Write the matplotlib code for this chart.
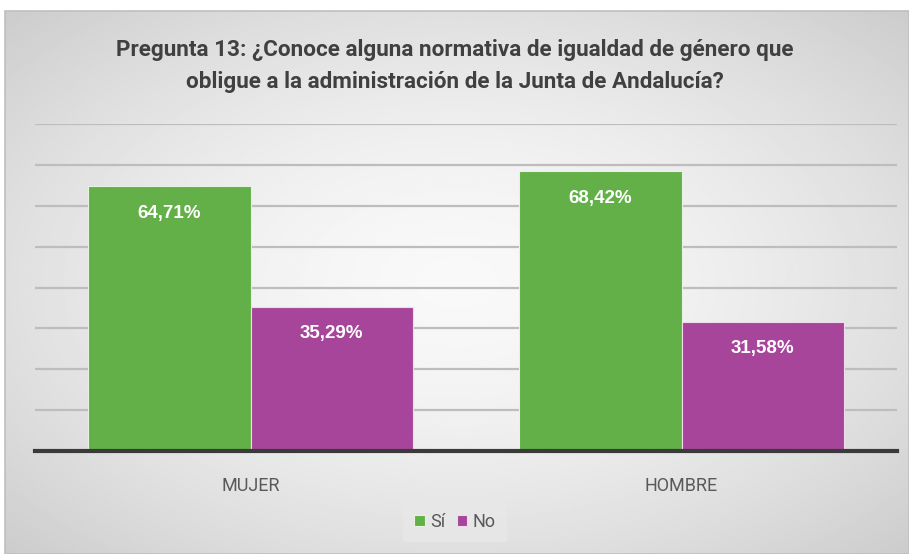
import numpy as np
import matplotlib
matplotlib.use("Agg")
import matplotlib.pyplot as plt
from matplotlib.patches import Rectangle

# Data
categories = ["MUJER", "HOMBRE"]
series_names = ["Sí", "No"]
si_values = [64.71, 68.42]
no_values = [35.29, 31.58]
label_si = ["64,71%", "68,42%"]
label_no = ["35,29%", "31,58%"]
title = "Pregunta 13: ¿Conoce alguna normativa de igualdad de género que\nobligue a la administración de la Junta de Andalucía?"

GREEN = "#62b047"
PURPLE = "#a64599"
narrow = ["Roboto", "DejaVu Sans"]

fig = plt.figure(figsize=(9.09, 5.54), dpi=100)
fig.patch.set_facecolor("white")

# Background radial gradient panel
bx0, by0, bw, bh = 5/909, 0, 904/909, 543/554
bg = fig.add_axes([bx0, by0, bw, bh], zorder=-10)
yy, xx = np.mgrid[-1:1:300j, -1:1:500j]
r = np.sqrt(xx**2 + yy**2)
r = np.clip(r / np.sqrt(2), 0, 1)
light, dark = 0.975, 0.80
img = light - (light - dark) * r**1.6
bg.imshow(img, cmap="gray", vmin=0, vmax=1, aspect="auto", extent=[0, 1, 0, 1])
bg.set_xlim(0, 1); bg.set_ylim(0, 1)
bg.axis("off")
fig.add_artist(Rectangle((bx0, by0), bw, bh, transform=fig.transFigure,
                         fill=False, edgecolor="#bfbfbf", linewidth=1.2, zorder=-5))

ax = fig.add_axes([35/909, 1 - 451/554, 862/909, (451 - 124)/554])
ax.patch.set_alpha(0)
x = np.arange(len(categories))
w = 0.376
ax.bar(x - w/2, si_values, width=w, color=GREEN, edgecolor="#e8f2e4", linewidth=0.8, label=series_names[0], zorder=3)
ax.bar(x + w/2, no_values, width=w, color=PURPLE, edgecolor="#f0dcec", linewidth=0.8, label=series_names[1], zorder=3)

for i in range(len(categories)):
    ax.text(x[i] - w/2, si_values[i] - 6.6, label_si[i], ha="center", va="center",
            color="white", fontsize=13.5, fontweight="bold", family="Liberation Sans", zorder=4)
    ax.text(x[i] + w/2, no_values[i] - 6.6, label_no[i], ha="center", va="center",
            color="white", fontsize=13.5, fontweight="bold", family="Liberation Sans", zorder=4)

ax.set_xlim(-0.5, 1.5)
ax.set_ylim(0, 80)
ax.set_yticks(np.arange(0, 81, 10))
ax.yaxis.grid(True, color="#bdbdbd", linewidth=1.6, zorder=0)
ax.tick_params(axis="y", left=False, labelleft=False)
ax.tick_params(axis="x", bottom=False, pad=15)
ax.set_xticks(x)
ax.set_xticklabels(categories, fontsize=13, color="#595959", family=narrow)
for s in ["top", "right", "left"]:
    ax.spines[s].set_visible(False)
ax.spines["bottom"].set_color("#3a3a3a")
ax.spines["bottom"].set_linewidth(3)
ax.spines["bottom"].set_zorder(5)

fig.text(455/909, 1 - 66/554, title, ha="center", va="center", fontsize=16.2,
         fontweight="bold", color="#404040", family=narrow, linespacing=1.55)

leg = fig.legend(loc="center", bbox_to_anchor=(455/909, 1 - 522/554), ncol=2,
                 frameon=True, handlelength=0.6, handleheight=0.6,
                 handletextpad=0.3, columnspacing=0.6, borderpad=0.6,
                 prop={"family": narrow, "size": 13})
leg.get_frame().set_facecolor("#e8e8e8")
leg.get_frame().set_edgecolor("none")
leg.get_frame().set_alpha(0.8)
for t in leg.get_texts():
    t.set_color("#595959")

fig.savefig("out.png", dpi=100)
